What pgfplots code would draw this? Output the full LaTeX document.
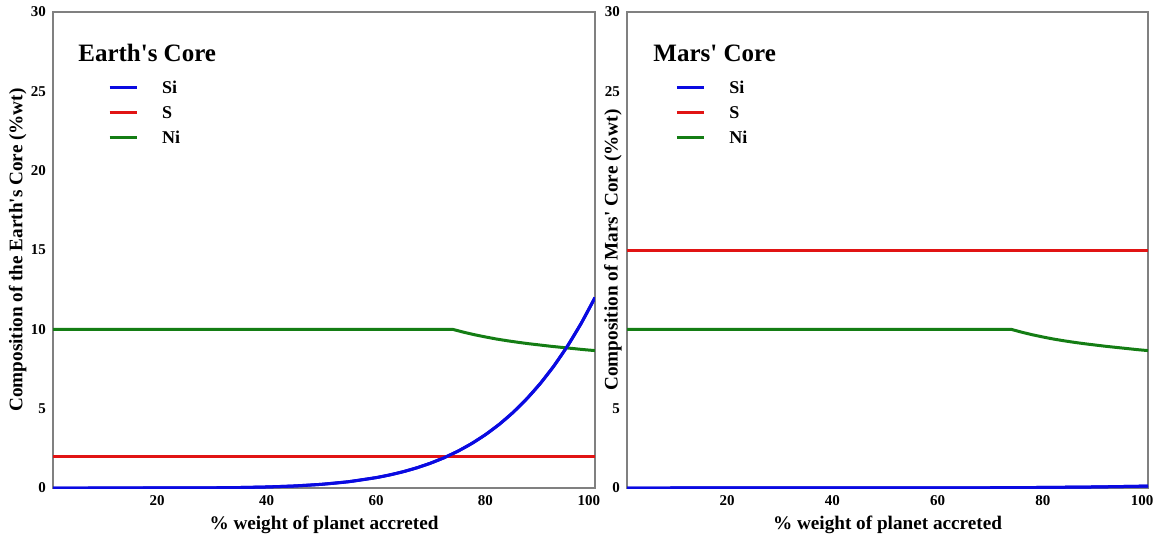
\documentclass[border=0pt]{standalone}
\usepackage{fontspec}
\setmainfont{Liberation Serif}
\usepackage{pgfplots}
\usepackage{pgfplotstable}
\pgfplotsset{compat=1.18}

\definecolor{sicol}{RGB}{10,10,225}
\definecolor{scol}{RGB}{225,20,20}
\definecolor{nicol}{RGB}{20,125,20}

% Earth's core
\pgfplotstableread{
x y
1 0
20 0.001
30 0.013
35 0.030
40 0.065
45 0.127
50 0.231
55 0.397
60 0.653
62.5 0.824
65 1.030
67.5 1.277
70 1.571
72.5 1.919
75 2.328
77.5 2.807
80 3.364
82.5 4.008
85 4.752
87.5 5.606
90 6.582
92.5 7.694
95 8.958
97.5 10.39
100 12.0
}\earthsi
\pgfplotstableread{
x y
1 2
100 2
}\earths
\pgfplotstableread{
x y
1 10
74 10
76 9.82
78 9.66
80 9.52
82 9.39
84 9.28
86 9.18
88 9.09
90 9.01
92 8.93
94 8.86
96 8.79
98 8.72
100 8.66
}\earthni

% Mars' core
\pgfplotstableread{
x y
1 0
50 0.002
60 0.007
70 0.016
80 0.034
90 0.066
100 0.12
}\marssi
\pgfplotstableread{
x y
1 15
100 15
}\marss
\pgfplotstableread{
x y
1 10
74 10
76 9.82
78 9.66
80 9.52
82 9.39
84 9.28
86 9.18
88 9.09
90 9.01
92 8.93
94 8.86
96 8.79
98 8.72
100 8.66
}\marsni

\pgfplotsset{
  coreaxis/.style={
    scale only axis,
    height=238pt,
    xmin=1, xmax=100, ymin=0, ymax=30,
    xtick={20,40,60,80,100},
    xticklabels={20,40,60,80,\hspace*{-6pt}100},
    axis line style={draw=gray, line width=0.8pt},
    major tick length=0pt,
    tick label style={font=\fontsize{7.5}{8}\selectfont\bfseries},
    /pgf/number format/assume math mode=true,
    label style={font=\fontsize{9.6}{11}\selectfont\bfseries},
    xlabel={\% weight of planet accreted},
    xlabel style={at={(axis description cs:0.5,-0.078)}, anchor=center},
    legend style={draw=none, fill=none, inner sep=0pt, anchor=north west,
      font=\fontsize{9}{10}\selectfont\bfseries, column sep=12pt, row sep=6.6pt,
      nodes={inner sep=0pt, text height=6pt, text depth=0pt}},
    legend cell align=left,
    legend image code/.code={\draw[#1, line width=1.5pt] (0pt,0pt) -- (13.5pt,0pt);},
    every axis plot/.append style={line width=1.5pt, no markers},
  }
}

\begin{document}
\begin{tikzpicture}
\path[use as bounding box] (-26.5pt,-26.5pt) rectangle (553pt,244pt);

\begin{axis}[coreaxis, width=271pt,
    ylabel={Composition of the Earth\textquotesingle s Core (\%wt)},
    ylabel style={at={(axis description cs:-0.065,0.5)}, anchor=center},
    legend style={at={(axis description cs:0.101,0.855)}}]
\addplot[sicol] table {\earthsi};
\addlegendentry{Si}
\addplot[scol] table {\earths};
\addlegendentry{S}
\addplot[nicol] table {\earthni};
\addlegendentry{Ni}
\addplot[sicol, smooth, forget plot] table {\earthsi};
\node[anchor=west, inner sep=0pt, font=\fontsize{12.5}{14}\selectfont\bfseries]
  at (axis description cs:0.046,0.914) {Earth\textquotesingle s Core};
\end{axis}

\begin{axis}[coreaxis, width=260.5pt, at={(287pt,0pt)},
    ytick={0,5,25,30},
    ylabel={Composition of Mars\textquotesingle\ Core (\%wt)},
    ylabel style={at={(axis description cs:-0.027,0.5)}, anchor=center},
    legend style={at={(axis description cs:0.092,0.855)}}]
\addplot[sicol] table {\marssi};
\addlegendentry{Si}
\addplot[scol] table {\marss};
\addlegendentry{S}
\addplot[nicol] table {\marsni};
\addlegendentry{Ni}
\addplot[sicol, forget plot] table {\marssi};
\node[anchor=west, inner sep=0pt, font=\fontsize{12.5}{14}\selectfont\bfseries]
  at (axis description cs:0.05,0.914) {Mars\textquotesingle\ Core};
\end{axis}
\end{tikzpicture}
\end{document}
